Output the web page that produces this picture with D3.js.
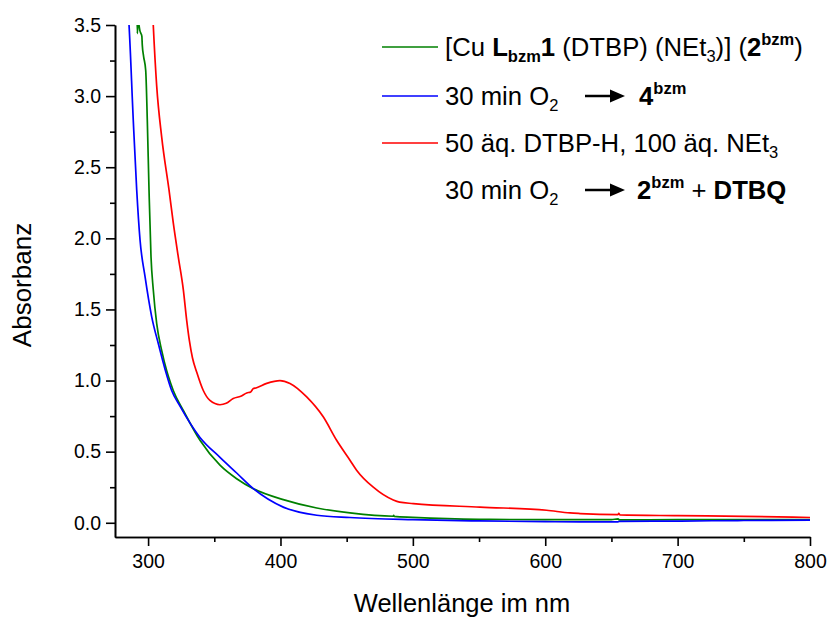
<!DOCTYPE html>
<html>
<head>
<meta charset="utf-8">
<script src="https://cdn.jsdelivr.net/npm/d3@7"></script>
<style>
  body { margin: 0; background: #fff; }
  svg { display: block; font-family: "Liberation Sans", Arial, sans-serif; }
</style>
</head>
<body>
<svg id="chart" width="830" height="617"></svg>
<script>
// ---- data ----
const greenWl  = [291.5, 291.9, 292.4, 293.1, 293.8, 294.6, 295.3, 295.6, 296.6, 298.2, 299.4, 300.7, 302.2, 303.9, 306.5, 310.3, 314.0, 315.3, 319.0, 326.6, 339.2, 354.3, 366.9, 379.5, 402.1, 427.4, 452.5, 485.0, 485.5, 486.0, 500, 550, 600, 650, 655, 656, 700, 750, 800];
const greenAbs = [3.62, 3.44, 3.55, 3.50, 3.46, 3.44, 3.42, 3.36, 3.28, 3.18, 2.83, 2.34, 1.87, 1.64, 1.40, 1.21, 1.07, 1.03, 0.93, 0.79, 0.58, 0.405, 0.31, 0.24, 0.163, 0.104, 0.069, 0.046, 0.052, 0.045, 0.038, 0.024, 0.022, 0.022, 0.028, 0.020, 0.022, 0.022, 0.022];

const blueWl  = [284.8, 285.6, 288.8, 291.4, 293.9, 297.7, 302.7, 307.7, 312.8, 317.8, 324.1, 339.2, 354.3, 366.9, 379.5, 402.1, 427.4, 452.5, 500, 550, 600, 626, 655, 656, 700, 750, 800];
const blueAbs = [3.62, 3.50, 2.83, 2.34, 1.99, 1.73, 1.45, 1.26, 1.08, 0.93, 0.82, 0.60, 0.46, 0.35, 0.24, 0.11, 0.053, 0.037, 0.022, 0.013, 0.008, 0.006, 0.006, 0.010, 0.012, 0.016, 0.018];

const redWl  = [303.3, 303.9, 306.5, 310.3, 315.8, 319.0, 322.8, 326.6, 329.2, 331.2, 333.5, 336.7, 341.7, 346.7, 354.3, 359.0, 364.3, 370.0, 374.5, 377.5, 379.5, 381.5, 389.6, 399.6, 407.2, 419.8, 432.3, 442.4, 452.5, 457.5, 470.1, 485.2, 490.0, 500.3, 550.7, 601.0, 618.7, 626.3, 655.0, 655.5, 656.5, 700, 750, 800];
const redAbs = [3.62, 3.50, 3.07, 2.71, 2.34, 2.11, 1.87, 1.64, 1.42, 1.28, 1.16, 1.06, 0.93, 0.86, 0.83, 0.84, 0.874, 0.89, 0.913, 0.92, 0.944, 0.948, 0.98, 1.00, 0.98, 0.885, 0.745, 0.58, 0.44, 0.37, 0.25, 0.16, 0.145, 0.135, 0.11, 0.088, 0.069, 0.065, 0.058, 0.066, 0.055, 0.050, 0.045, 0.037];

const xMajorTicks = [300, 400, 500, 600, 700, 800];
const xMinorTicks = [350, 450, 550, 650, 750];
const yMajorTicks = [0.0, 0.5, 1.0, 1.5, 2.0, 2.5, 3.0, 3.5];
const yMinorTicks = [0.25, 0.75, 1.25, 1.75, 2.25, 2.75, 3.25];

const xTitle = "Wellenlänge im nm";
const yTitle = "Absorbanz";

const seriesColors = ["#008000", "#0000ff", "#ff0000"];

// ---- layout ----
const svg = d3.select("#chart");
const L = 115, R = 810, T = 25, B = 537;

const x = d3.scaleLinear().domain([275, 800]).range([L, R]);
const y = d3.scaleLinear().domain([-0.1, 3.5]).range([B, T]);

svg.append("defs").append("clipPath").attr("id", "plotclip")
  .append("rect").attr("x", L).attr("y", T).attr("width", R - L + 1).attr("height", B - T);

// axes
const axisStyle = g => {
  g.selectAll("path.domain").attr("stroke", "#000").attr("stroke-width", 1.6);
  g.selectAll(".tick line").attr("stroke", "#000").attr("stroke-width", 1.6);
  g.selectAll(".tick text").attr("fill", "#000").attr("font-size", 19.5)
    .attr("font-family", "Liberation Sans, Arial, sans-serif");
};

svg.append("g").attr("transform", `translate(0,${B})`)
  .call(d3.axisBottom(x).tickValues(xMinorTicks).tickSize(5).tickSizeOuter(0).tickFormat(""))
  .call(axisStyle);
svg.append("g").attr("transform", `translate(0,${B})`)
  .call(d3.axisBottom(x).tickValues(xMajorTicks).tickSize(9).tickSizeOuter(0).tickPadding(8).tickFormat(d3.format("d")))
  .call(axisStyle);

svg.append("g").attr("transform", `translate(${L},0)`)
  .call(d3.axisLeft(y).tickValues(yMinorTicks).tickSize(5).tickSizeOuter(0).tickFormat(""))
  .call(axisStyle);
svg.append("g").attr("transform", `translate(${L},0)`)
  .call(d3.axisLeft(y).tickValues(yMajorTicks).tickSize(9).tickSizeOuter(0).tickPadding(5).tickFormat(d3.format(".1f")))
  .call(axisStyle);

// titles
svg.append("text").attr("x", 462).attr("y", 612).attr("text-anchor", "middle")
  .attr("font-size", 25.5).attr("fill", "#000").text(xTitle);
svg.append("text").attr("transform", "translate(31,285) rotate(-90)").attr("text-anchor", "middle")
  .attr("font-size", 26).attr("fill", "#000").text(yTitle);

// curves
const line = d3.line().curve(d3.curveMonotoneX).x(d => x(d[0])).y(d => y(d[1]));
const series = [
  d3.zip(greenWl, greenAbs),
  d3.zip(blueWl, blueAbs),
  d3.zip(redWl, redAbs)
];
const plot = svg.append("g").attr("clip-path", "url(#plotclip)");
series.forEach((s, i) => {
  plot.append("path").datum(s).attr("d", line)
    .attr("fill", "none").attr("stroke", seriesColors[i]).attr("stroke-width", 1.7)
    .attr("stroke-linejoin", "round");
});

// legend
const fs = 25.7, fsS = 16.5;
const rowY = [47, 96, 143, 190];
const lg = svg.append("g").attr("fill", "#000").attr("font-size", fs);
[0, 1, 2].forEach(i => {
  lg.append("line").attr("x1", 382).attr("x2", 438).attr("y1", rowY[i]).attr("y2", rowY[i])
    .attr("stroke", seriesColors[i]).attr("stroke-width", 1.7);
});
function addRow(xp, yc, parts) {
  const t = lg.append("text").attr("x", xp).attr("y", yc + 8.5);
  let cur = 0;
  parts.forEach(p => {
    const shift = p.sub ? 6.5 : (p.sup ? -10.5 : 0);
    const ts = t.append("tspan").attr("dy", shift - cur).text(p.t);
    cur = shift;
    if (p.b) ts.attr("font-weight", "bold");
    if (p.sub || p.sup) ts.attr("font-size", fsS);
  });
  return t;
}
addRow(445, rowY[0], [
  {t: "[Cu "}, {t: "L", b: 1}, {t: "bzm", b: 1, sub: 1}, {t: "1", b: 1},
  {t: " (DTBP) (NEt"}, {t: "3", sub: 1}, {t: ")] ("}, {t: "2", b: 1}, {t: "bzm", b: 1, sup: 1}, {t: ")"}
]);
addRow(445, rowY[1], [{t: "30 min O"}, {t: "2", sub: 1}]);
addRow(639, rowY[1], [{t: "4", b: 1}, {t: "bzm", b: 1, sup: 1}]);
addRow(445, rowY[2], [{t: "50 äq. DTBP-H, 100 äq. NEt"}, {t: "3", sub: 1}]);
addRow(445, rowY[3], [{t: "30 min O"}, {t: "2", sub: 1}]);
addRow(637, rowY[3], [{t: "2", b: 1}, {t: "bzm", b: 1, sup: 1}, {t: " + "}, {t: "DTBQ", b: 1}]);

// arrows
function arrow(x1, x2, yc) {
  lg.append("line").attr("x1", x1).attr("x2", x2 - 10).attr("y1", yc).attr("y2", yc)
    .attr("stroke", "#000").attr("stroke-width", 2.5);
  lg.append("path").attr("d", `M${x2},${yc} L${x2 - 15},${yc - 6.5} L${x2 - 15},${yc + 6.5} Z`).attr("fill", "#000");
}
arrow(585, 625, rowY[1]);
arrow(585, 625, rowY[3]);
</script>
</body>
</html>
